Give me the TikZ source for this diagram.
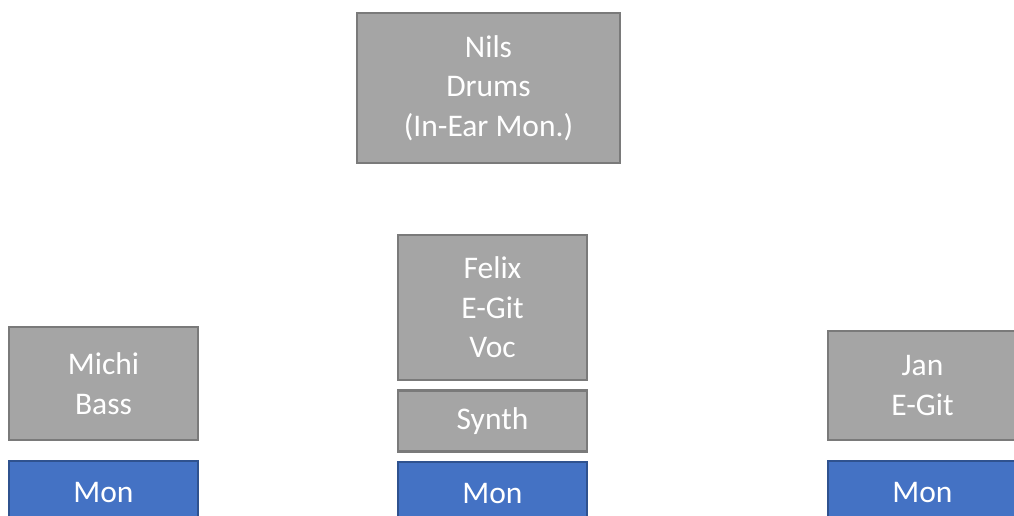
\documentclass[tikz,border=0pt]{standalone}
\usepackage{fontspec}
\setmainfont{Carlito}
\usetikzlibrary{positioning}

\definecolor{boxgray}{HTML}{A5A5A5}
\definecolor{boxedge}{HTML}{7A7A7A}
\definecolor{monblue}{HTML}{4472C4}
\definecolor{monedge}{HTML}{2F528F}

\begin{document}
\begin{tikzpicture}[x=1pt,y=-1pt,node distance=8pt,
 player/.style={draw=boxedge,fill=boxgray,line width=2.5pt,text=white,align=center,
   minimum width=189pt,inner sep=0pt,font=\fontsize{31.5}{39.5}\selectfont},
 mon/.style={player,draw=monedge,fill=monblue,minimum height=62pt}]

 \useasboundingbox (0,0) rectangle (1014,515);

 \node[player,minimum width=263pt,minimum height=150pt] (nils) at (488.5,88) {Nils\\Drums\\(In-Ear Mon.)};

 \node[player,minimum height=145pt] (felix) at (492.5,307.5) {Felix\\E-Git\\Voc};
 \node[player,minimum height=61pt] (synth) [below=of felix] {Synth};
 \node[mon] (mon_felix) [below=of synth] {Mon};

 \node[player,minimum height=113pt] (michi) at (103.5,383.5) {Michi\\Bass};
 \node[mon] (mon_michi) at (103.5,492) {Mon};

 \node[player,minimum height=109pt] (jan) at (922.5,385.5) {Jan\\E-Git};
 \node[mon] (mon_jan) at (922.5,492) {Mon};
\end{tikzpicture}
\end{document}
